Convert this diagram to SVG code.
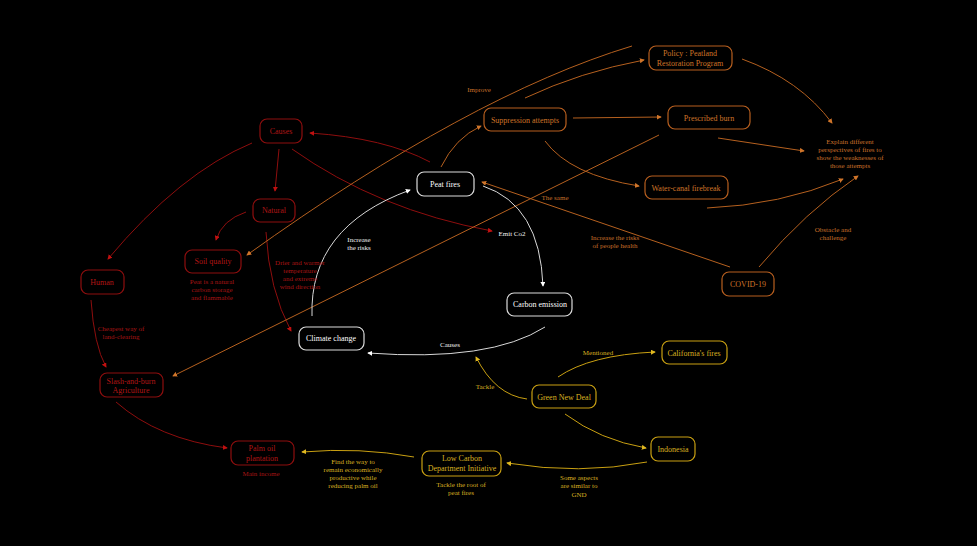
<svg xmlns="http://www.w3.org/2000/svg" width="977" height="546" viewBox="0 0 977 546">
<style>
text{font-family:"Liberation Serif","Times New Roman",serif;text-anchor:middle}
.n{font-size:8px}
.l{font-size:7px}
.box{fill:#000;stroke-width:1.2}
.c{fill:none;stroke-width:1}
.r .box{stroke:#8e0e0e}.r text{fill:#b01515}
.o .box{stroke:#b85f1f}.o text{fill:#cf7428}
.y .box{stroke:#c9a012}.y text{fill:#d9b020}
.w .box{stroke:#dcdcdc}.w text{fill:#fff}
.cr{stroke:#8e0e0e}.co{stroke:#b5601f}.cy{stroke:#c9a012}.cw{stroke:#d8d8d8}
.lr{fill:#a81414}.lo{fill:#c9702a}.ly{fill:#d9b020}.lw{fill:#f0f0f0}
</style>
<defs>
<marker id="ar" viewBox="0 0 6 6" refX="5" refY="3" markerWidth="5" markerHeight="5" markerUnits="userSpaceOnUse" orient="auto"><path d="M0,0L6,3L0,6z" fill="#c01010"/></marker>
<marker id="ao" viewBox="0 0 6 6" refX="5" refY="3" markerWidth="5" markerHeight="5" markerUnits="userSpaceOnUse" orient="auto"><path d="M0,0L6,3L0,6z" fill="#d0752a"/></marker>
<marker id="ay" viewBox="0 0 6 6" refX="5" refY="3" markerWidth="5" markerHeight="5" markerUnits="userSpaceOnUse" orient="auto"><path d="M0,0L6,3L0,6z" fill="#e0b820"/></marker>
<marker id="aw" viewBox="0 0 6 6" refX="5" refY="3" markerWidth="5" markerHeight="5" markerUnits="userSpaceOnUse" orient="auto"><path d="M0,0L6,3L0,6z" fill="#ffffff"/></marker>
</defs>
<rect width="977" height="546" fill="#000"/>
<g id="connectors">
<!-- red -->
<path class="c cr" d="M430,162 Q385,138 310,133" marker-end="url(#ar)"/>
<path class="c cr" d="M279,149 L275,191" marker-end="url(#ar)"/>
<path class="c cr" d="M252,143 Q180,173 108,259" marker-end="url(#ar)"/>
<path class="c cr" d="M292,149 Q378,210 492,231" marker-end="url(#ar)"/>
<path class="c cr" d="M246,212 Q222,220 216,240" marker-end="url(#ar)"/>
<path class="c cr" d="M266,232 Q269,290 291,331" marker-end="url(#ar)"/>
<path class="c cr" d="M91,300 Q94,345 106,367" marker-end="url(#ar)"/>
<path class="c cr" d="M116,402 Q158,439 227,448" marker-end="url(#ar)"/>
<!-- orange -->
<path class="c co" d="M441,167 Q455,138 481,126" marker-end="url(#ao)"/>
<path class="c co" d="M525,98 Q580,72 644,60" marker-end="url(#ao)"/>
<path class="c co" d="M632,46 Q470,95 247,255" marker-end="url(#ao)"/>
<path class="c co" d="M659,135 L173,376" marker-end="url(#ao)"/>
<path class="c co" d="M573,118 L661,117" marker-end="url(#ao)"/>
<path class="c co" d="M545,141 Q570,175 639,186" marker-end="url(#ao)"/>
<path class="c co" d="M742,59 Q800,80 832,123" marker-end="url(#ao)"/>
<path class="c co" d="M718,138 L804,151" marker-end="url(#ao)"/>
<path class="c co" d="M707,208 Q780,205 843,179" marker-end="url(#ao)"/>
<path class="c co" d="M759,267 Q805,212 858,176" marker-end="url(#ao)"/>
<path class="c co" d="M730,267 L482,182" marker-end="url(#ao)"/>
<!-- white -->
<path class="c cw" d="M483,186 Q540,205 543,286" marker-end="url(#aw)"/>
<path class="c cw" d="M545,327 Q490,362 368,353" marker-end="url(#aw)"/>
<path class="c cw" d="M312,316 Q309,227 410,190" marker-end="url(#aw)"/>
<!-- yellow -->
<path class="c cy" d="M527,399 Q495,395 476,357" marker-end="url(#ay)"/>
<path class="c cy" d="M558,377 Q590,355 655,352" marker-end="url(#ay)"/>
<path class="c cy" d="M565,414 Q600,440 646,448" marker-end="url(#ay)"/>
<path class="c cy" d="M647,462 Q580,475 507,463" marker-end="url(#ay)"/>
<path class="c cy" d="M414,457 Q360,447 302,452" marker-end="url(#ay)"/>
</g>
<g id="labels">
<text class="l lr" x="212" y="284">Peat is a natural</text>
<text class="l lr" x="212" y="292">carbon storage</text>
<text class="l lr" x="212" y="300">and flammable</text>
<text class="l lr" x="121" y="330.5">Cheapest way of</text>
<text class="l lr" x="121" y="339">land-clearing</text>
<text class="l lr" x="261" y="475.5">Main income</text>
<text class="l lr" x="300" y="264.5">Drier and warmer</text>
<text class="l lr" x="300" y="272.5">temperature</text>
<text class="l lr" x="300" y="280.5">and extreme</text>
<text class="l lr" x="300" y="289">wind direction</text>
<text class="l lo" x="479" y="91.5">Improve</text>
<text class="l lo" x="555" y="199.5">The same</text>
<text class="l lw" x="512" y="235.5">Emit Co2</text>
<text class="l lo" x="615" y="239.5">Increase the risks</text>
<text class="l lo" x="615" y="247.5">of people health</text>
<text class="l lo" x="850" y="143.5">Explain different</text>
<text class="l lo" x="850" y="151.8">perspectives of fires to</text>
<text class="l lo" x="850" y="160.1">show the weaknesses of</text>
<text class="l lo" x="850" y="168.4">those attempts</text>
<text class="l lo" x="833" y="231.5">Obstacle and</text>
<text class="l lo" x="833" y="240">challenge</text>
<text class="l lw" x="359" y="241.5">Increase</text>
<text class="l lw" x="359" y="249.5">the risks</text>
<text class="l lw" x="450" y="346.5">Causes</text>
<text class="l ly" x="598" y="354.5">Mentioned</text>
<text class="l ly" x="485" y="388.5">Tackle</text>
<text class="l ly" x="353" y="463.5">Find the way to</text>
<text class="l ly" x="353" y="471.8">remain economically</text>
<text class="l ly" x="353" y="480.1">productive while</text>
<text class="l ly" x="353" y="488.4">reducing palm oil</text>
<text class="l ly" x="461" y="486.5">Tackle the root of</text>
<text class="l ly" x="461" y="495">peat fires</text>
<text class="l ly" x="579" y="479.5">Some aspects</text>
<text class="l ly" x="579" y="488">are similar to</text>
<text class="l ly" x="579" y="496.5">GND</text>
</g>
<g id="causes" class="r"><rect class="box" x="260" y="119" width="42" height="24" rx="7"/><text class="n" x="281" y="133.8">Causes</text></g>
<g id="natural" class="r"><rect class="box" x="253" y="199" width="42" height="23" rx="7"/><text class="n" x="274" y="213">Natural</text></g>
<g id="soil-quality" class="r"><rect class="box" x="185" y="250" width="56" height="23" rx="7"/><text class="n" x="213" y="264">Soil quality</text></g>
<g id="human" class="r"><rect class="box" x="81" y="270" width="43" height="24" rx="7"/><text class="n" x="102" y="285">Human</text></g>
<g id="slash-and-burn" class="r"><rect class="box" x="100" y="373" width="63" height="24" rx="7"/><text class="n" x="131" y="383.8">Slash-and-burn</text><text class="n" x="131" y="393">Agriculture</text></g>
<g id="palm-oil" class="r"><rect class="box" x="231" y="441" width="63" height="24" rx="7"/><text class="n" x="262" y="451">Palm oil</text><text class="n" x="262" y="461">plantation</text></g>
<g id="climate-change" class="w"><rect class="box" x="299" y="327" width="65" height="23" rx="7"/><text class="n" x="331" y="341">Climate change</text></g>
<g id="peat-fires" class="w"><rect class="box" x="417" y="172" width="57" height="24" rx="7"/><text class="n" x="445" y="187">Peat fires</text></g>
<g id="carbon-emission" class="w"><rect class="box" x="507" y="293" width="65" height="23" rx="7"/><text class="n" x="540" y="307">Carbon emission</text></g>
<g id="suppression" class="o"><rect class="box" x="484" y="108" width="82" height="23" rx="7"/><text class="n" x="525" y="122.8">Suppression attempts</text></g>
<g id="policy" class="o"><rect class="box" x="649" y="46" width="83" height="24" rx="7"/><text class="n" x="690" y="56">Policy : Peatland</text><text class="n" x="690" y="66">Restoration Program</text></g>
<g id="prescribed-burn" class="o"><rect class="box" x="668" y="106" width="82" height="23" rx="7"/><text class="n" x="709" y="120.8">Prescribed burn</text></g>
<g id="water-canal" class="o"><rect class="box" x="645" y="176" width="83" height="23" rx="7"/><text class="n" x="686" y="190.8">Water-canal firebreak</text></g>
<g id="covid" class="o"><rect class="box" x="722" y="272" width="52" height="24" rx="7"/><text class="n" x="748" y="286.8">COVID-19</text></g>
<g id="california" class="y"><rect class="box" x="662" y="341" width="65" height="23" rx="7"/><text class="n" x="694" y="355.8">California's fires</text></g>
<g id="green-new-deal" class="y"><rect class="box" x="532" y="385" width="64" height="23" rx="7"/><text class="n" x="564" y="399.8">Green New Deal</text></g>
<g id="indonesia" class="y"><rect class="box" x="651" y="437" width="44" height="24" rx="7"/><text class="n" x="673" y="451.8">Indonesia</text></g>
<g id="low-carbon" class="y"><rect class="box" x="422" y="451" width="79" height="25" rx="7"/><text class="n" x="462" y="461">Low Carbon</text><text class="n" x="462" y="471">Department Initiative</text></g>
</svg>
